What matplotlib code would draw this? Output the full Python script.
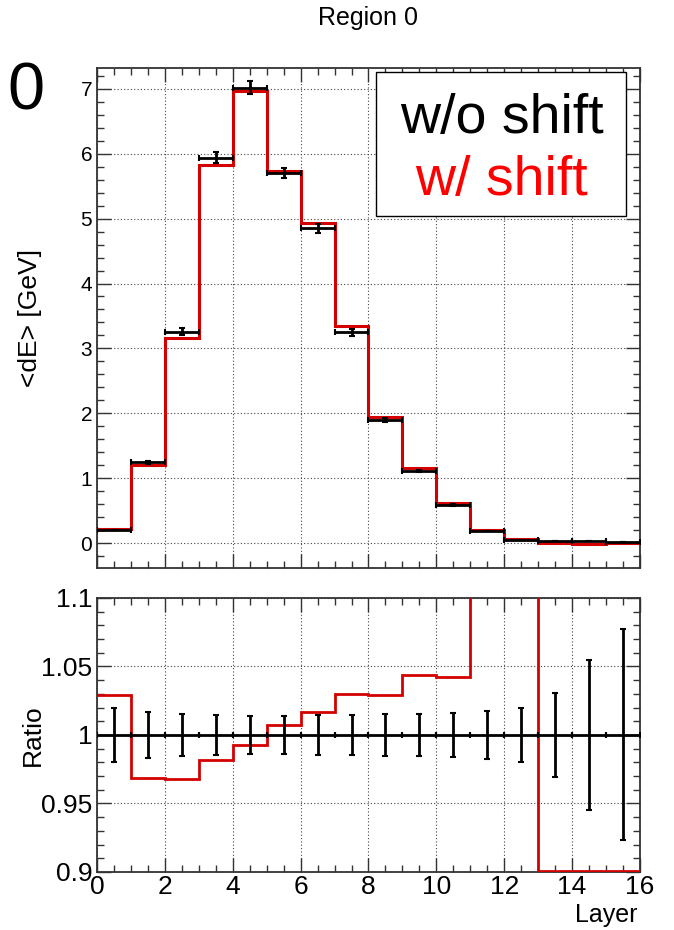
import numpy as np
import matplotlib
matplotlib.use("Agg")
import matplotlib.pyplot as plt
from matplotlib.ticker import MultipleLocator

plt.rcParams['font.family'] = ['Liberation Sans', 'DejaVu Sans']

# layer bins 0..16
edges = np.arange(0, 17)
# mean energy per layer, w/o shift (black) and w/ shift (red), GeV
dE_noshift = [0.205, 1.245, 3.26, 5.94, 7.015, 5.70, 4.85, 3.245,
              1.895, 1.114, 0.588, 0.185, 0.048, 0.035, 0.035, 0.012]
dE_shift = [0.211, 1.206, 3.156, 5.833, 6.966, 5.740, 4.932, 3.342,
            1.950, 1.163, 0.613, 0.205, 0.062, 0.0, -0.015, 0.005]
# relative stat. error of the w/o shift points
rel_err = [0.0195, 0.0167, 0.0155, 0.0145, 0.014, 0.014, 0.0143, 0.0143,
           0.015, 0.0154, 0.016, 0.0173, 0.0197, 0.0306, 0.055, 0.077]

black = np.array(dE_noshift)
red = np.array(dE_shift)
err = black * np.array(rel_err)
centers = edges[:-1] + 0.5
ratio = red / black

RED = '#d40000'
grid_kw = dict(color='#444444', linestyle=(0, (1, 2)), linewidth=0.8)

fig = plt.figure(figsize=(6.74, 9.30), dpi=100)
ax1 = fig.add_axes([0.1439, 0.3892, 0.8056, 0.5376])
ax2 = fig.add_axes([0.1439, 0.0624, 0.8056, 0.2946])

# top panel
ax1.stairs(red, edges, baseline=None, color=RED, linewidth=2.2, zorder=3)
ax1.errorbar(centers, black, xerr=0.5, yerr=err, fmt='none', ecolor='black',
             elinewidth=2, capsize=2, capthick=1.5, zorder=4)
ax1.set_xlim(0, 16)
ax1.set_ylim(-0.385, 7.32)
ax1.xaxis.set_major_locator(MultipleLocator(2))
ax1.xaxis.set_minor_locator(MultipleLocator(0.5))
ax1.yaxis.set_major_locator(MultipleLocator(1))
ax1.yaxis.set_minor_locator(MultipleLocator(0.2))
ax1.tick_params(labelbottom=False)
ax1.tick_params(axis='y', labelsize=15)
ax1.set_ylabel('<dE> [GeV]', fontsize=19)
ax1.yaxis.set_label_coords(-0.101, 0.5)
ax1.grid(True, which='major', **grid_kw)

# legend box
ax1.text(0.745, 0.8706, 'w/o shift', transform=ax1.transAxes, ha='center',
         va='baseline', fontsize=40, color='black', zorder=6)
ax1.text(0.745, 0.746, 'w/ shift', transform=ax1.transAxes, ha='center',
         va='baseline', fontsize=40, color='red', zorder=6)
ax1.add_patch(plt.Rectangle((0.514, 0.705), 0.46, 0.287, transform=ax1.transAxes,
                            facecolor='white', edgecolor='black', lw=1.0, zorder=5))

# ratio panel
ax2.errorbar(centers, np.ones_like(black), xerr=0.5, yerr=rel_err, fmt='none',
             ecolor='black', elinewidth=2, capsize=2, capthick=1.5, zorder=4)
ax2.stairs(np.clip(ratio, 0.9006, None), edges, baseline=None, color=RED,
           linewidth=2, zorder=3)
ax2.set_xlim(0, 16)
ax2.set_ylim(0.9, 1.1)
ax2.xaxis.set_major_locator(MultipleLocator(2))
ax2.xaxis.set_minor_locator(MultipleLocator(0.5))
ax2.yaxis.set_major_locator(MultipleLocator(0.05))
ax2.yaxis.set_minor_locator(MultipleLocator(0.01))
ax2.yaxis.set_major_formatter(lambda v, p: f'{v:g}')
ax2.tick_params(labelsize=19)
ax2.tick_params(axis='x', pad=2)
ax2.set_ylabel('Ratio', fontsize=19)
ax2.yaxis.set_label_coords(-0.096, 0.5)
ax2.set_xlabel('Layer', fontsize=18, ha='right')
ax2.xaxis.set_label_coords(0.995, -0.115)
ax2.grid(True, which='major', **grid_kw)

for ax in (ax1, ax2):
    ax.tick_params(which='both', direction='in', top=True, right=True,
                   color='#333333')
    ax.tick_params(which='major', length=10, width=1)
    ax.tick_params(which='minor', length=5, width=1)
    for s in ax.spines.values():
        s.set_linewidth(1.3)
        s.set_color('#333333')

fig.text(0.546, 0.994, 'Region 0', ha='center', va='top', fontsize=18)
fig.text(0.038, 0.9, '0', ha='center', va='center', fontsize=48)

fig.savefig('out.png', dpi=100)
